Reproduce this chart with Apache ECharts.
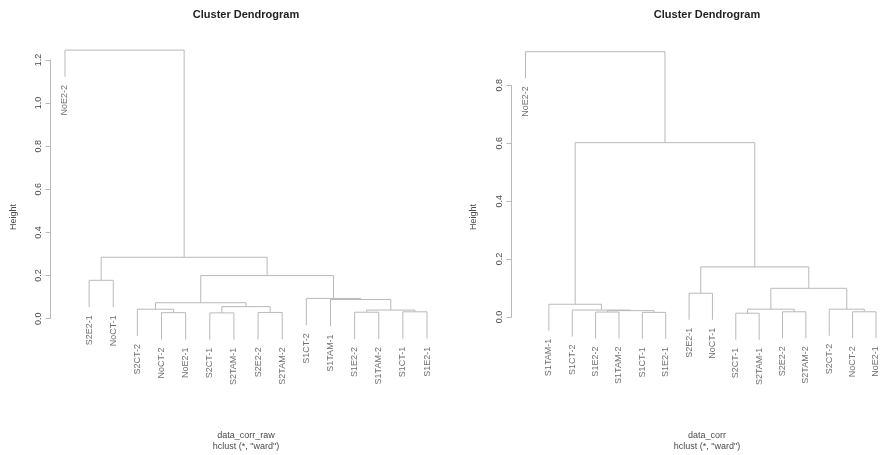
<!DOCTYPE html>
<html>
<head>
<meta charset="utf-8">
<script src="https://cdn.jsdelivr.net/npm/echarts@6/dist/echarts.min.js"></script>
<style>
  html, body { margin: 0; padding: 0; background: #ffffff; }
  #chart { width: 890px; height: 455px; }
</style>
</head>
<body>
<div id="chart"></div>
<script>
// Leaf order and merge tree of the clustering on the raw correlations
const leavesRaw = ['NoE2-2', 'S2E2-1', 'NoCT-1', 'S2CT-2', 'NoCT-2', 'NoE2-1', 'S2CT-1', 'S2TAM-1',
                   'S2E2-2', 'S2TAM-2', 'S1CT-2', 'S1TAM-1', 'S1E2-2', 'S1TAM-2', 'S1CT-1', 'S1E2-1'];
// each merge joins two children: a leaf name or the index of an earlier merge
const mergesRaw = [
  ['NoCT-2', 'NoE2-1'], ['S2CT-1', 'S2TAM-1'], ['S2E2-2', 'S2TAM-2'], ['S1E2-2', 'S1TAM-2'],
  ['S1CT-1', 'S1E2-1'], [3, 4], ['S2CT-2', 0], [1, 2], [6, 7], ['S1TAM-1', 5], ['S1CT-2', 9],
  ['S2E2-1', 'NoCT-1'], [8, 10], [11, 12], ['NoE2-2', 13]
];
const heightsRaw = [0.028, 0.027, 0.029, 0.030, 0.032, 0.040, 0.044, 0.056, 0.074, 0.089, 0.094,
                    0.178, 0.200, 0.285, 1.246];

// Leaf order and merge tree of the clustering on the correlations
const leavesCorr = ['NoE2-2', 'S1TAM-1', 'S1CT-2', 'S1E2-2', 'S1TAM-2', 'S1CT-1', 'S1E2-1', 'S2E2-1',
                    'NoCT-1', 'S2CT-1', 'S2TAM-1', 'S2E2-2', 'S2TAM-2', 'S2CT-2', 'NoCT-2', 'NoE2-1'];
const mergesCorr = [
  ['S2CT-1', 'S2TAM-1'], ['S1E2-2', 'S1TAM-2'], ['S1CT-1', 'S1E2-1'], ['S2E2-2', 'S2TAM-2'],
  ['NoCT-2', 'NoE2-1'], [1, 2], ['S1CT-2', 5], [0, 3], ['S2CT-2', 4], ['S1TAM-1', 6],
  ['S2E2-1', 'NoCT-1'], [7, 8], [10, 11], [9, 12], ['NoE2-2', 13]
];
const heightsCorr = [0.013, 0.017, 0.016, 0.018, 0.018, 0.022, 0.024, 0.027, 0.027, 0.044,
                     0.082, 0.099, 0.173, 0.602, 0.916];

// Y axis ticks of the two panels
const ticksRaw = [0, 0.2, 0.4, 0.6, 0.8, 1.0, 1.2];
const ticksCorr = [0, 0.2, 0.4, 0.6, 0.8];

const FONT = '"Liberation Sans", Arial, Helvetica, sans-serif';
const LINE = '#b9b9b9';
const TEXT = '#4a4a4a';

// Turn a merge list into the bracket polylines and the hanging leaf points
function buildTree(leaves, merges, heights) {
  const hang = 0.1 * Math.max.apply(null, heights);
  const nodeX = [];
  const segments = [];
  const leafPoints = [];
  merges.forEach(function (pair, i) {
    const h = heights[i];
    const ends = pair.map(function (c) {
      if (typeof c === 'string') {
        const x = leaves.indexOf(c) + 1;
        leafPoints.push({ name: c, value: [x, h - hang] });
        return [x, h - hang];
      }
      return [nodeX[c], heights[c]];
    });
    nodeX[i] = (ends[0][0] + ends[1][0]) / 2;
    segments.push({ coords: [ends[0], [ends[0][0], h], [ends[1][0], h], ends[1]] });
  });
  return { segments: segments, leafPoints: leafPoints };
}

const treeRaw = buildTree(leavesRaw, mergesRaw, heightsRaw);
const treeCorr = buildTree(leavesCorr, mergesCorr, heightsCorr);

function yAxisFor(gridIndex, ticks) {
  return {
    type: 'value', gridIndex: gridIndex,
    min: ticks[0], max: ticks[ticks.length - 1], interval: 0.2,
    axisLine: { show: true, lineStyle: { color: LINE, width: 1 } },
    axisTick: { show: true, length: 5, lineStyle: { color: LINE } },
    splitLine: { show: false },
    axisLabel: {
      rotate: 90, fontSize: 9, color: TEXT, fontFamily: FONT, margin: 7,
      formatter: function (v) { return v.toFixed(1); }
    }
  };
}

function xAxisFor(gridIndex) {
  return { type: 'value', gridIndex: gridIndex, min: 0.4, max: 16.6, show: false };
}

function treeSeries(tree, idx) {
  return [
    {
      type: 'lines', coordinateSystem: 'cartesian2d', xAxisIndex: idx, yAxisIndex: idx,
      polyline: true, clip: false, silent: true, animation: false,
      lineStyle: { color: LINE, width: 1, opacity: 1 },
      data: tree.segments
    },
    {
      type: 'scatter', xAxisIndex: idx, yAxisIndex: idx, clip: false, silent: true,
      animation: false, symbolSize: 0,
      label: {
        show: true, position: 'bottom', distance: 8, rotate: 90,
        align: 'right', verticalAlign: 'middle',
        fontSize: 9, color: TEXT, fontFamily: FONT,
        formatter: function (p) { return p.name; }
      },
      data: tree.leafPoints
    }
  ];
}

function caption(text, x, y, size, weight, color) {
  return {
    type: 'text', silent: true,
    style: {
      text: text, x: x, y: y, align: 'center', verticalAlign: 'middle',
      font: weight + ' ' + size + 'px ' + FONT, fill: color
    }
  };
}

function sideLabel(text, x, y) {
  return {
    type: 'text', silent: true, x: x, y: y, rotation: Math.PI / 2,
    style: {
      text: text, x: 0, y: 0, align: 'center', verticalAlign: 'middle',
      font: 'normal 9px ' + FONT, fill: TEXT
    }
  };
}

const chart = echarts.init(document.getElementById('chart'), null, { renderer: 'canvas' });
chart.setOption({
  backgroundColor: '#ffffff',
  animation: false,
  grid: [
    { left: 50.5, top: 60, width: 391, height: 258.7 },
    { left: 511.5, top: 85.3, width: 391, height: 231.7 }
  ],
  xAxis: [xAxisFor(0), xAxisFor(1)],
  yAxis: [yAxisFor(0, ticksRaw), yAxisFor(1, ticksCorr)],
  series: treeSeries(treeRaw, 0).concat(treeSeries(treeCorr, 1)),
  graphic: [
    caption('Cluster Dendrogram', 246, 15, 11, 'bold', '#222222'),
    caption('Cluster Dendrogram', 707, 15, 11, 'bold', '#222222'),
    caption('data_corr_raw', 246, 436, 9, 'normal', TEXT),
    caption('hclust (*, "ward")', 246, 447, 9, 'normal', TEXT),
    caption('data_corr', 707, 436, 9, 'normal', TEXT),
    caption('hclust (*, "ward")', 707, 447, 9, 'normal', TEXT),
    sideLabel('Height', 14, 217),
    sideLabel('Height', 474, 217)
  ]
});
</script>
</body>
</html>
